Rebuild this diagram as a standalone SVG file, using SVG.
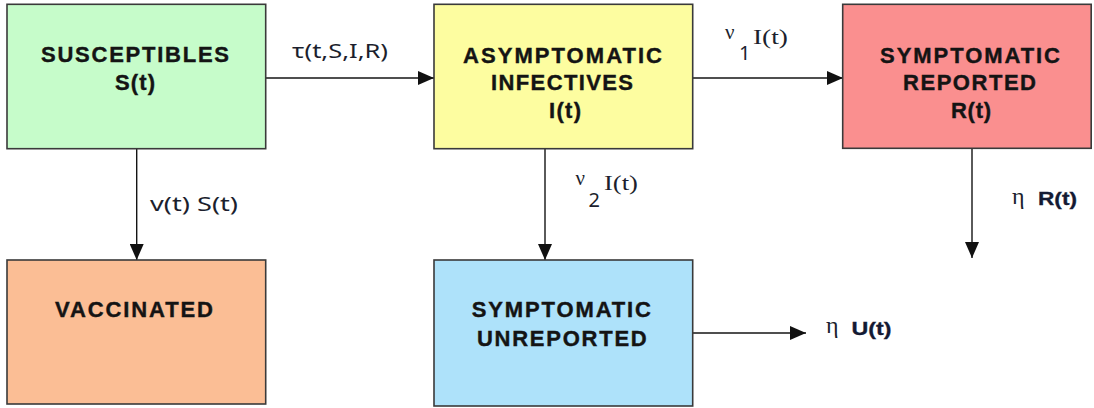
<svg xmlns="http://www.w3.org/2000/svg" width="1094" height="408" viewBox="0 0 1094 408">
<style>
.box{stroke:#3a3a3a;stroke-width:1.6}
.bt{font-family:"Liberation Sans",Arial,sans-serif;font-weight:bold;font-size:22px;fill:#141414;stroke:#141414;stroke-width:0.4}
.lbl{font-family:"Noto Sans","Liberation Sans",sans-serif;font-size:20px;fill:#1c1f2e}
.sym{font-family:"Liberation Serif","Times New Roman",serif;fill:#1c1f2e}
.ser{font-family:"Liberation Serif","Times New Roman",serif;font-size:21px;fill:#1c1f2e}
.bl{font-family:"Liberation Sans",Arial,sans-serif;font-weight:bold;font-size:18px;fill:#141a33;stroke:#141a33;stroke-width:0.3}
.con{stroke:#141414;stroke-width:1.4;fill:none;marker-end:url(#ah)}
</style>
<defs>
<marker id="ah" viewBox="0 0 16 14" refX="16" refY="7" markerWidth="16" markerHeight="14" orient="auto" markerUnits="userSpaceOnUse">
<path d="M0,0 L16,7 L0,14 Z" fill="#111"/>
</marker>
</defs>
<rect width="1094" height="408" fill="#fff"/>
<g id="connectors">
<line class="con" x1="266" y1="78" x2="434" y2="78"/>
<line class="con" x1="693" y1="78" x2="843" y2="78"/>
<line class="con" x1="136.7" y1="149" x2="136.7" y2="260"/>
<line class="con" x1="545" y1="149" x2="545" y2="260"/>
<line class="con" x1="972" y1="149" x2="972" y2="258"/>
<line class="con" x1="693" y1="333" x2="806" y2="333"/>
<text class="lbl" x="292" y="58" textLength="96" lengthAdjust="spacingAndGlyphs">τ(t,S,I,R)</text>
<text class="sym" x="725" y="39" font-size="21">ν</text>
<text class="lbl" x="739" y="60" font-size="24px">1</text>
<text class="ser" x="753" y="44" textLength="35" lengthAdjust="spacingAndGlyphs">I(t)</text>
<text class="sym" x="575.5" y="185" font-size="21">ν</text>
<text class="lbl" x="588.5" y="207" font-size="24px">2</text>
<text class="ser" x="604" y="190" textLength="34" lengthAdjust="spacingAndGlyphs">I(t)</text>
<text class="lbl" x="150" y="211" textLength="88" lengthAdjust="spacingAndGlyphs">v(t) S(t)</text>
<text class="sym" x="1012" y="204" font-size="24">η</text>
<text class="bl" x="1038" y="205" textLength="39" lengthAdjust="spacingAndGlyphs">R(t)</text>
<text class="sym" x="826" y="333" font-size="24">η</text>
<text class="bl" x="851.5" y="335" textLength="40" lengthAdjust="spacingAndGlyphs">U(t)</text>
</g>
<g id="susceptibles">
<rect class="box" x="7" y="4.3" width="258.7" height="144.4" fill="#c6fcca"/>
<text class="bt" x="41" y="62" textLength="188" lengthAdjust="spacing">SUSCEPTIBLES</text>
<text class="bt" x="115" y="90" textLength="40" lengthAdjust="spacing">S(t)</text>
</g>
<g id="asymptomatic">
<rect class="box" x="434" y="4.3" width="258.7" height="144.4" fill="#fdfda0"/>
<text class="bt" x="463" y="62.5" textLength="199" lengthAdjust="spacing">ASYMPTOMATIC</text>
<text class="bt" x="491" y="90" textLength="142" lengthAdjust="spacing">INFECTIVES</text>
<text class="bt" x="549" y="118" textLength="32" lengthAdjust="spacing">I(t)</text>
</g>
<g id="reported">
<rect class="box" x="842.7" y="4.3" width="248.5" height="144" fill="#fa8f8f"/>
<text class="bt" x="880" y="62.5" textLength="180" lengthAdjust="spacing">SYMPTOMATIC</text>
<text class="bt" x="903" y="90" textLength="133" lengthAdjust="spacing">REPORTED</text>
<text class="bt" x="951" y="118" textLength="40" lengthAdjust="spacing">R(t)</text>
</g>
<g id="vaccinated">
<rect class="box" x="7" y="260" width="258.7" height="144" fill="#fbbe95"/>
<text class="bt" x="55" y="316.5" textLength="158" lengthAdjust="spacing">VACCINATED</text>
</g>
<g id="unreported">
<rect class="box" x="434" y="260" width="258.7" height="146" fill="#aee2fa"/>
<text class="bt" x="471.7" y="316.5" textLength="179.3" lengthAdjust="spacing">SYMPTOMATIC</text>
<text class="bt" x="477" y="346" textLength="169.7" lengthAdjust="spacing">UNREPORTED</text>
</g>
</svg>
